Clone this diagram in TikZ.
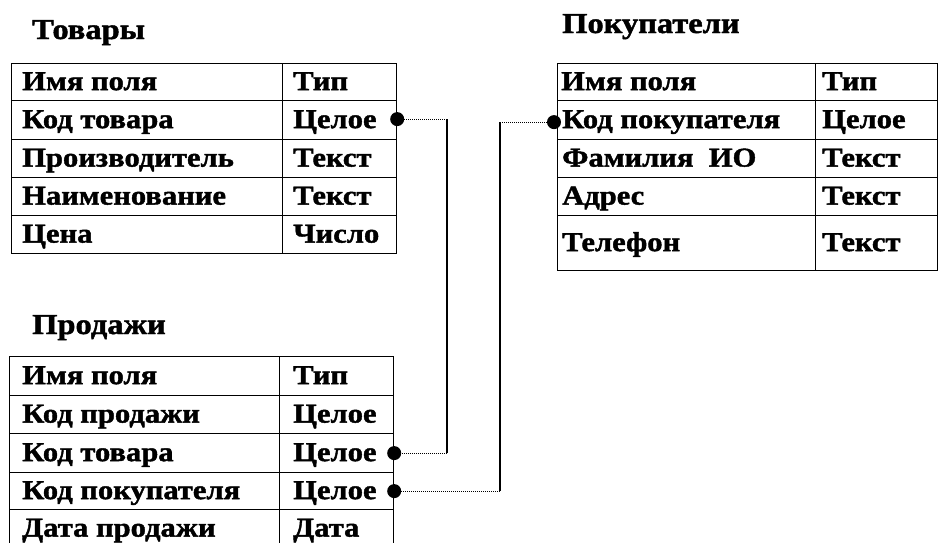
\documentclass[tikz,border=0pt]{standalone}
\usepackage{fontspec}
\setmainfont{Liberation Serif}[FakeStretch=1.12, BoldFont={Liberation Serif Bold}, BoldFeatures={FakeBold=1.5}]
\begin{document}
\begin{tikzpicture}[x=1pt,y=-1pt,
  cell/.style={draw, line width=1.2pt, anchor=north west, inner sep=0pt},
  txt/.style={anchor=base west, inner sep=0pt, font=\bfseries\fontsize{27.3}{30}\selectfont},
  ttl/.style={anchor=base west, inner sep=0pt, font=\bfseries\fontsize{29}{32}\selectfont},
  keydot/.style={circle, fill=black, inner sep=0pt, minimum size=14pt},
  dotline/.style={line width=1pt, dash pattern=on 1pt off 1pt},
  vline/.style={line width=1.2pt}]
\clip (0,0) rectangle (939,542);
\newcommand\rc[7]{\node[cell,minimum width=#4pt,minimum height=#5pt] (#1) at (#2,#3) {};
  \node[txt] (#1t) at ([xshift=#6pt,yshift=-8pt]#1.west) {#7};}
% Товары
\node[ttl] (tT) at (32,39) {Товары};
\rc{ta0}{11}{63}{271}{37}{11}{Имя поля}
\rc{tb0}{282}{63}{114}{37}{11}{Тип}
\rc{ta1}{11}{100}{271}{39}{11}{Код товара}
\rc{tb1}{282}{100}{114}{39}{11}{Целое}
\rc{ta2}{11}{139}{271}{38}{11}{Производитель}
\rc{tb2}{282}{139}{114}{38}{11}{Текст}
\rc{ta3}{11}{177}{271}{38}{11}{Наименование}
\rc{tb3}{282}{177}{114}{38}{11}{Текст}
\rc{ta4}{11}{215}{271}{38}{11}{Цена}
\rc{tb4}{282}{215}{114}{38}{11}{Число}
% Покупатели
\node[ttl] (pT) at (562,33) {Покупатели};
\rc{pa0}{557}{63}{258}{37}{4}{Имя поля}
\rc{pb0}{815}{63}{122}{37}{7}{Тип}
\rc{pa1}{557}{100}{258}{39}{5}{Код покупателя}
\rc{pb1}{815}{100}{122}{39}{7}{Целое}
\rc{pa2}{557}{139}{258}{38}{5}{Фамилия\ \ ИО}
\rc{pb2}{815}{139}{122}{38}{7}{Текст}
\rc{pa3}{557}{177}{258}{38}{5}{Адрес}
\rc{pb3}{815}{177}{122}{38}{7}{Текст}
\rc{pa4}{557}{215}{258}{55}{5}{Телефон}
\rc{pb4}{815}{215}{122}{55}{7}{Текст}
% Продажи
\node[ttl] (sT) at (32,334) {Продажи};
\rc{sa0}{9}{356}{270}{39}{13}{Имя поля}
\rc{sb0}{279}{356}{114}{39}{14}{Тип}
\rc{sa1}{9}{395}{270}{38}{13}{Код продажи}
\rc{sb1}{279}{395}{114}{38}{14}{Целое}
\rc{sa2}{9}{433}{270}{39}{13}{Код товара}
\rc{sb2}{279}{433}{114}{39}{14}{Целое}
\rc{sa3}{9}{472}{270}{37}{13}{Код покупателя}
\rc{sb3}{279}{472}{114}{37}{14}{Целое}
\rc{sa4}{9}{509}{270}{38}{13}{Дата продажи}
\rc{sb4}{279}{509}{114}{38}{14}{Дата}
% key dots
\node[keydot] (d1) at ([yshift=1pt]tb1.east) {};
\node[keydot] (d2) at (sb2.east) {};
\node[keydot] (d3) at (sb3.east) {};
\node[keydot] (d4) at ([xshift=-3pt,yshift=-2pt]pa1.west) {};
\coordinate (b1) at (447,0 |- d1);
\coordinate (b2) at (447,0 |- d2);
\coordinate (b3) at (500,0 |- d3);
\coordinate (b4) at (500,0 |- d4);
% connectors
\draw[dotline] (d1) -- (b1);
\draw[vline] (b1) -- (b2);
\draw[dotline] (b2) -- (d2);
\draw[dotline] (d3) -- (b3);
\draw[vline] (b3) -- (b4);
\draw[dotline] (b4) -- (d4);
\end{tikzpicture}
\end{document}
